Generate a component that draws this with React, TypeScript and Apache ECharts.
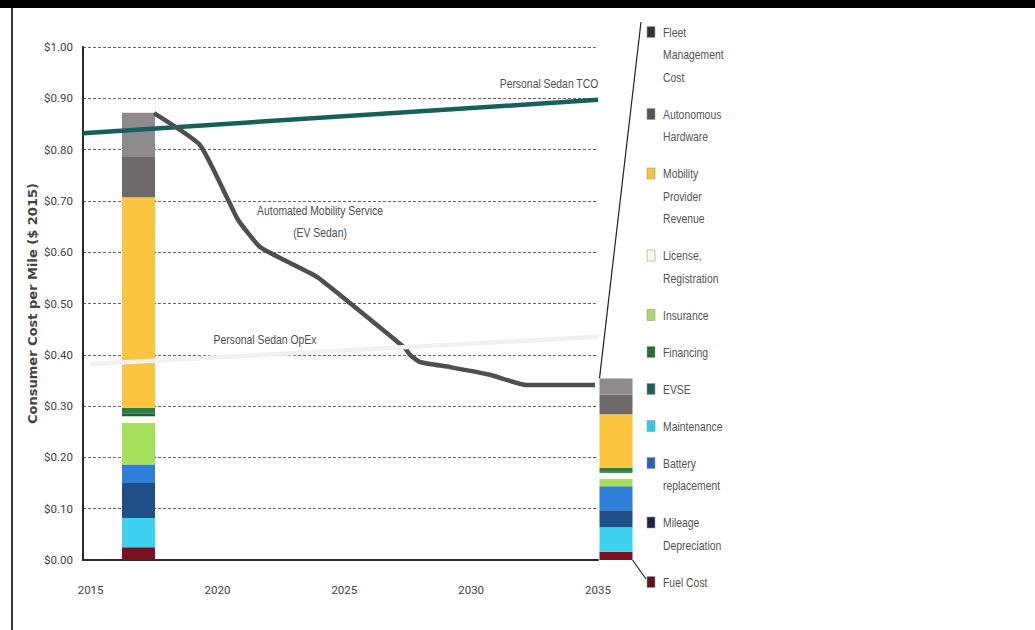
import React, { useEffect, useRef } from 'react';
import * as echarts from 'echarts';

// ---- data ----
const barCategories = ['Today (2017)', '2035'];
const fuelCost = [0.025, 0.016];
const maintenance = [0.057, 0.048];
const mileageDepreciation = [0.068, 0.033];
const batteryReplacement = [0.036, 0.047];
const insurance = [0.081, 0.014];
const licenseRegistration = [0.013, 0.012];
const evse = [0.005, 0.003];
const financing = [0.012, 0.007];
const mobilityProviderRevenue = [0.41, 0.104];
const autonomousHardware = [0.08, 0.038];
const fleetManagementCost = [0.085, 0.032];

const tcoYears = [2014.7, 2035];
const tcoValues = [0.832, 0.897];
const opexYears = [2015, 2035];
const opexValues = [0.382, 0.435];
const amsYears = [2017.5, 2019.31, 2020.42, 2020.81, 2021.68, 2022.86, 2023.92, 2025.22, 2027.39, 2027.59, 2027.98, 2029.17, 2030.74, 2032.2, 2034.88];
const amsValues = [0.871, 0.809, 0.702, 0.663, 0.61, 0.579, 0.552, 0.501, 0.413, 0.4, 0.386, 0.376, 0.361, 0.341, 0.341];

const xTicks = [2015, 2020, 2025, 2030, 2035];

// legend order (top to bottom) with wrapped labels
const legendNames = ['Fleet Management Cost', 'Autonomous Hardware', 'Mobility Provider Revenue', 'License, Registration', 'Insurance', 'Financing', 'EVSE', 'Maintenance', 'Battery replacement', 'Mileage Depreciation', 'Fuel Cost'];
const legendLabels = ['Fleet\nManagement\nCost', 'Autonomous\nHardware', 'Mobility\nProvider\nRevenue', 'License,\nRegistration', 'Insurance', 'Financing', 'EVSE', 'Maintenance', 'Battery\nreplacement', 'Mileage\nDepreciation', 'Fuel Cost'];

const NARROW = "'Liberation Sans', Arial, sans-serif";
const AXISFONT = "Roboto, 'Liberation Sans', sans-serif";

export default function App() {
  const ref = useRef<HTMLDivElement>(null);
  useEffect(() => {
    const chart = echarts.init(ref.current!, null, { renderer: 'svg' });

    const stack = [
      { name: 'Fuel Cost', data: fuelCost, color: '#7a1424', legend: '#5a151c' },
      { name: 'Maintenance', data: maintenance, color: '#3ed2f0', legend: '#38c6e6' },
      { name: 'Mileage Depreciation', data: mileageDepreciation, color: '#1f4e88', legend: '#1a2540' },
      { name: 'Battery replacement', data: batteryReplacement, color: '#2f7fd8', legend: '#2b62b6' },
      { name: 'Insurance', data: insurance, color: '#a5e05c', legend: '#a7d86b' },
      { name: 'License, Registration', data: licenseRegistration, color: '#fbfaf0', legend: '#fbf8e6' },
      { name: 'EVSE', data: evse, color: '#1c5c52', legend: '#1e5d58' },
      { name: 'Financing', data: financing, color: '#2e7d3e', legend: '#2a6a30' },
      { name: 'Mobility Provider Revenue', data: mobilityProviderRevenue, color: '#fcc43f', legend: '#f6c244' },
      { name: 'Autonomous Hardware', data: autonomousHardware, color: '#6e696a', legend: '#555555' },
      { name: 'Fleet Management Cost', data: fleetManagementCost, color: '#8d8b8c', legend: '#333333' },
    ];

    const barSeries = stack.map((s) => ({
      type: 'bar',
      name: s.name,
      xAxisIndex: 1,
      yAxisIndex: 1,
      stack: 'cost',
      barWidth: 33,
      clip: false,
      itemStyle: { color: s.color },
      data: s.data,
    }));

    const option: any = {
      animation: false,
      backgroundColor: '#ffffff',
      grid: [
        { left: 83, right: 437, top: 47, bottom: 70 },
        { left: 138.5, right: 419, top: 47, bottom: 70 },
      ],
      xAxis: [
        {
          type: 'value', gridIndex: 0, min: 2014.7, max: 2035,
          splitLine: { show: false },
          axisTick: { show: false },
          axisLine: { show: true, lineStyle: { color: '#2a2a2a', width: 2 } },
          axisLabel: {
            customValues: xTicks, margin: 24, color: '#444',
            fontFamily: AXISFONT, fontSize: 11.5,
            formatter: (v: number) => String(Math.round(v)),
          },
        },
        { type: 'category', gridIndex: 1, data: barCategories, boundaryGap: false, show: false },
      ],
      yAxis: [
        {
          type: 'value', gridIndex: 0, min: 0, max: 1, interval: 0.1,
          name: 'Consumer Cost per Mile ($ 2015)',
          nameLocation: 'middle', nameGap: 44,
          nameTextStyle: { fontFamily: "'DejaVu Sans', sans-serif", fontWeight: 'bold', fontSize: 13, color: '#444' },
          axisLine: { show: true, lineStyle: { color: '#2a2a2a', width: 2 } },
          axisTick: { show: false },
          axisLabel: {
            margin: 10, color: '#444', fontFamily: AXISFONT, fontSize: 11.5,
            formatter: (v: number) => '$' + v.toFixed(2),
          },
          splitLine: { show: true, lineStyle: { color: '#666', width: 1.2, type: [3, 2] } },
        },
        { type: 'value', gridIndex: 1, min: 0, max: 1, show: false, splitLine: { show: false } },
      ],
      series: [
        ...barSeries,
        {
          type: 'line', name: 'Personal Sedan TCO', xAxisIndex: 0, yAxisIndex: 0,
          symbol: 'none', lineStyle: { color: '#15605a', width: 4.5 },
          data: tcoYears.map((y, i) => [y, tcoValues[i]]),
        },
        {
          type: 'line', name: 'Automated Mobility Service (EV Sedan)', xAxisIndex: 0, yAxisIndex: 0,
          symbol: 'none', smooth: 0.15, lineStyle: { color: '#4f4f4f', width: 4.5 },
          data: amsYears.map((y, i) => [y, amsValues[i]]),
        },
        {
          type: 'line', name: 'Personal Sedan OpEx', xAxisIndex: 0, yAxisIndex: 0,
          symbol: 'none', lineStyle: { color: '#f1f1f1', width: 4.5 },
          data: opexYears.map((y, i) => [y, opexValues[i]]),
        },
      ],
    };
    chart.setOption(option);

    // connectors from right bar to legend
    const total = stack.reduce((a, s) => a + s.data[1], 0);
    const topPt = chart.convertToPixel({ gridIndex: 1 } as any, [1, total]) as number[];
    const botPt = chart.convertToPixel({ gridIndex: 1 } as any, [1, 0]) as number[];
    const half = 33 / 2;

    const txt = (x: number, y: number, text: string, align: string) => ({
      type: 'text', x, y, scaleX: 0.8,
      style: { text, font: `13px ${NARROW}`, fill: '#505050', align, verticalAlign: 'middle' },
    });

    const lineH = 22.5;
    const gap = 14.5;
    const graphics: any[] = [
      { type: 'rect', shape: { x: 0, y: 0, width: 1035, height: 8 }, style: { fill: '#000' } },
      { type: 'line', shape: { x1: 12, y1: 8, x2: 12, y2: 630 }, style: { stroke: '#333', lineWidth: 2 } },
      txt(549, 83, 'Personal Sedan TCO', 'center'),
      txt(320, 210, 'Automated Mobility Service', 'center'),
      txt(320, 232, '(EV Sedan)', 'center'),
      txt(265, 339, 'Personal Sedan OpEx', 'center'),
    ];

    let cy = 32;
    const legendFirst: number[] = [];
    legendNames.forEach((n, i) => {
      const s = stack.find((x) => x.name === n)!;
      legendFirst.push(cy);
      graphics.push({ type: 'rect', shape: { x: 647, y: cy - 5.5, width: 8, height: 11 }, style: { fill: s.legend, stroke: '#9a9a9a', lineWidth: 0.6 } });
      graphics.push({
        type: 'text', x: 663, y: cy - lineH / 2, scaleX: 0.8,
        style: { text: legendLabels[i], font: `13px ${NARROW}`, fill: '#555', lineHeight: lineH, verticalAlign: 'top', align: 'left' },
      });
      const lines = legendLabels[i].split('\n').length;
      cy += lines * lineH + gap;
    });

    graphics.push({ type: 'line', shape: { x1: topPt[0] - half, y1: topPt[1], x2: 641, y2: legendFirst[0] - 10 }, style: { stroke: '#222', lineWidth: 1.2 } });
    graphics.push({ type: 'line', shape: { x1: botPt[0] + half, y1: botPt[1], x2: 646, y2: legendFirst[legendFirst.length - 1] - 3 }, style: { stroke: '#222', lineWidth: 1.2 } });

    chart.setOption({ graphic: graphics });
    return () => chart.dispose();
  }, []);
  return <div ref={ref} style={{ position: 'fixed', left: 0, top: 0, width: 1035, height: 630 }} />;
}
